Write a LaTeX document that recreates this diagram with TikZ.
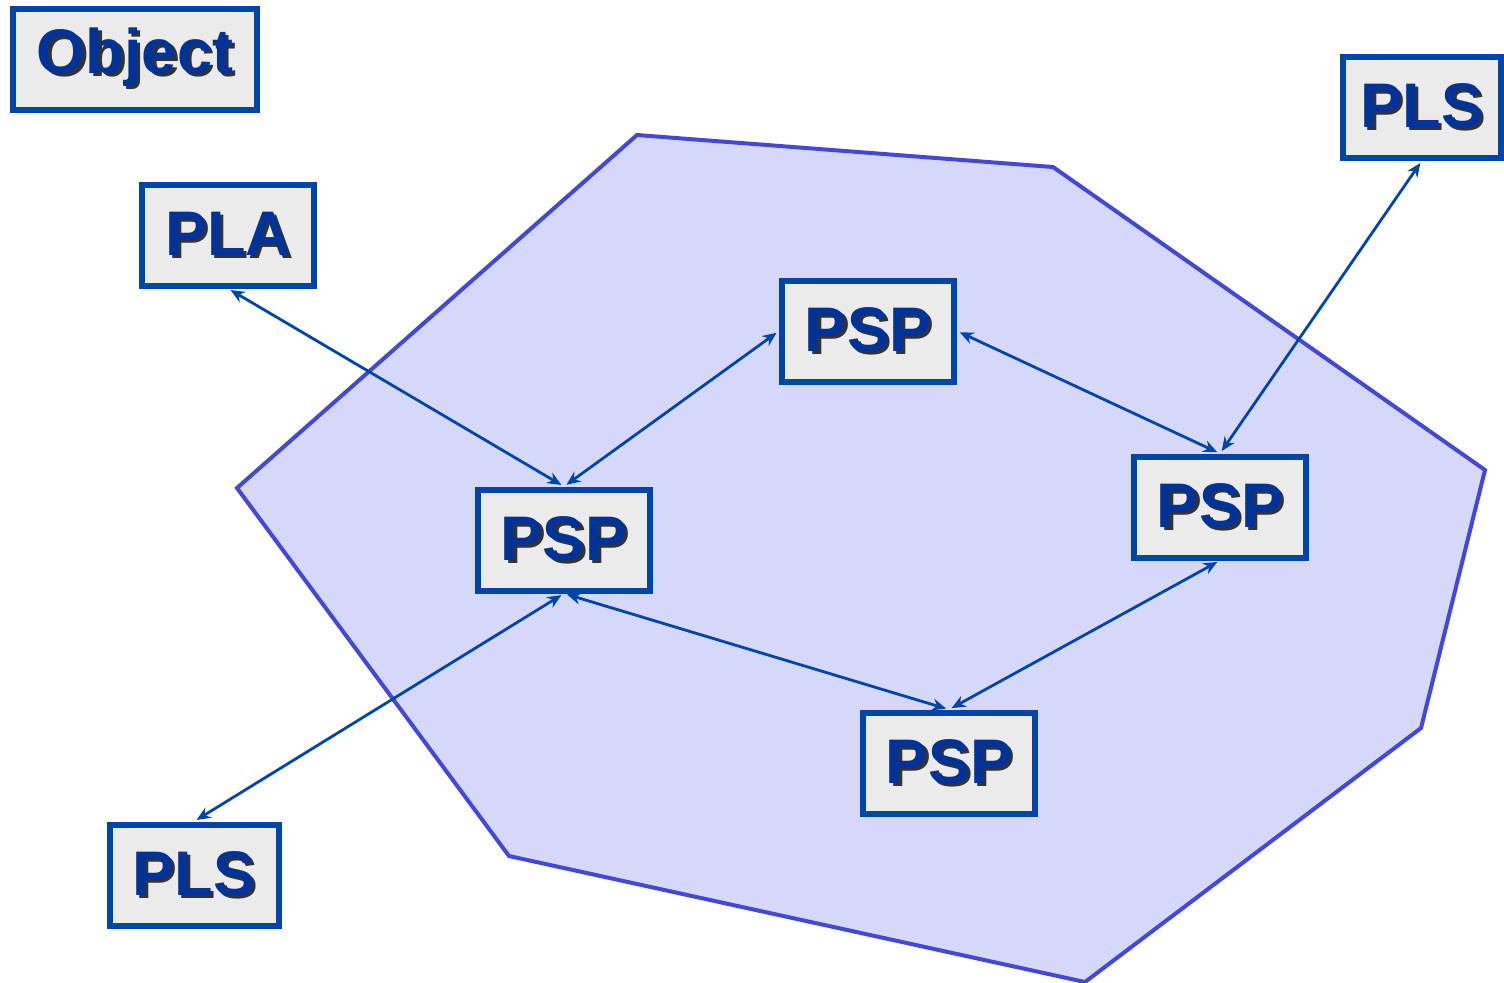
\documentclass[tikz,border=0pt]{standalone}
\usepackage{fontspec}
\setmainfont{Liberation Sans}
\usetikzlibrary{arrows.meta}
\definecolor{boxblue}{RGB}{0,70,170}
\definecolor{txtblue}{RGB}{0,51,153}
\definecolor{boxfill}{RGB}{235,235,235}
\definecolor{polyfill}{RGB}{214,216,250}
\definecolor{polyline}{RGB}{68,72,216}
\newcommand\shad[1]{\rlap{\kern1.6pt\raisebox{-1.6pt}{\textcolor{black!80}{#1}}}\textcolor{txtblue}{#1}}
\tikzset{
  agent/.style={draw=boxblue, line width=3pt, fill=boxfill, inner sep=0pt,
    minimum width=86pt, minimum height=50.5pt,
    font=\fontsize{31.5}{34}\selectfont\bfseries},
  link/.style={draw=boxblue, line width=1.4pt, {Stealth[length=7pt,width=6pt]}-{Stealth[length=7pt,width=6pt]}, shorten <=1.5pt, shorten >=1.5pt}
}
\begin{document}
\begin{tikzpicture}[x=0.5pt,y=-0.5pt]
\useasboundingbox (0,0) rectangle (1504,982);
\begin{scope}
\clip (0,0) rectangle (1504,982);
\draw[polyline, fill=polyfill, line width=2pt, line join=miter]
  (637,135) -- (1053,167) -- (1485,470) -- (1421,728) -- (1085,982) -- (509,856) -- (237,488) -- cycle;
\end{scope}
\node[agent, minimum width=122pt] (obj) at (135,59) {\shad{Object}};
\node[agent] (pla) at (228,235) {\shad{PLA}};
\node[agent, minimum width=79pt] (plsR) at (1422,107) {\shad{PLS}};
\node[agent] (pspT) at (868,331) {\shad{PSP}};
\node[agent] (pspL) at (564,540) {\shad{PSP}};
\node[agent] (pspR) at (1220,507) {\shad{PSP}};
\node[agent] (pspB) at (949,763) {\shad{PSP}};
\node[agent, minimum width=84.5pt] (plsL) at (194,875) {\shad{PLS}};
\draw[link] (pla.south) -- (pspL.north);
\draw[link] (pspL.north) -- (pspT.west);
\draw[link] (pspT.east) -- (pspR.north);
\draw[link] (plsR.south) -- (pspR.north);
\draw[link] (pspR.south) -- (pspB.north);
\draw[link] (pspL.south) -- (pspB.north);
\draw[link] (pspL.south) -- (plsL.north);
\end{tikzpicture}
\end{document}
